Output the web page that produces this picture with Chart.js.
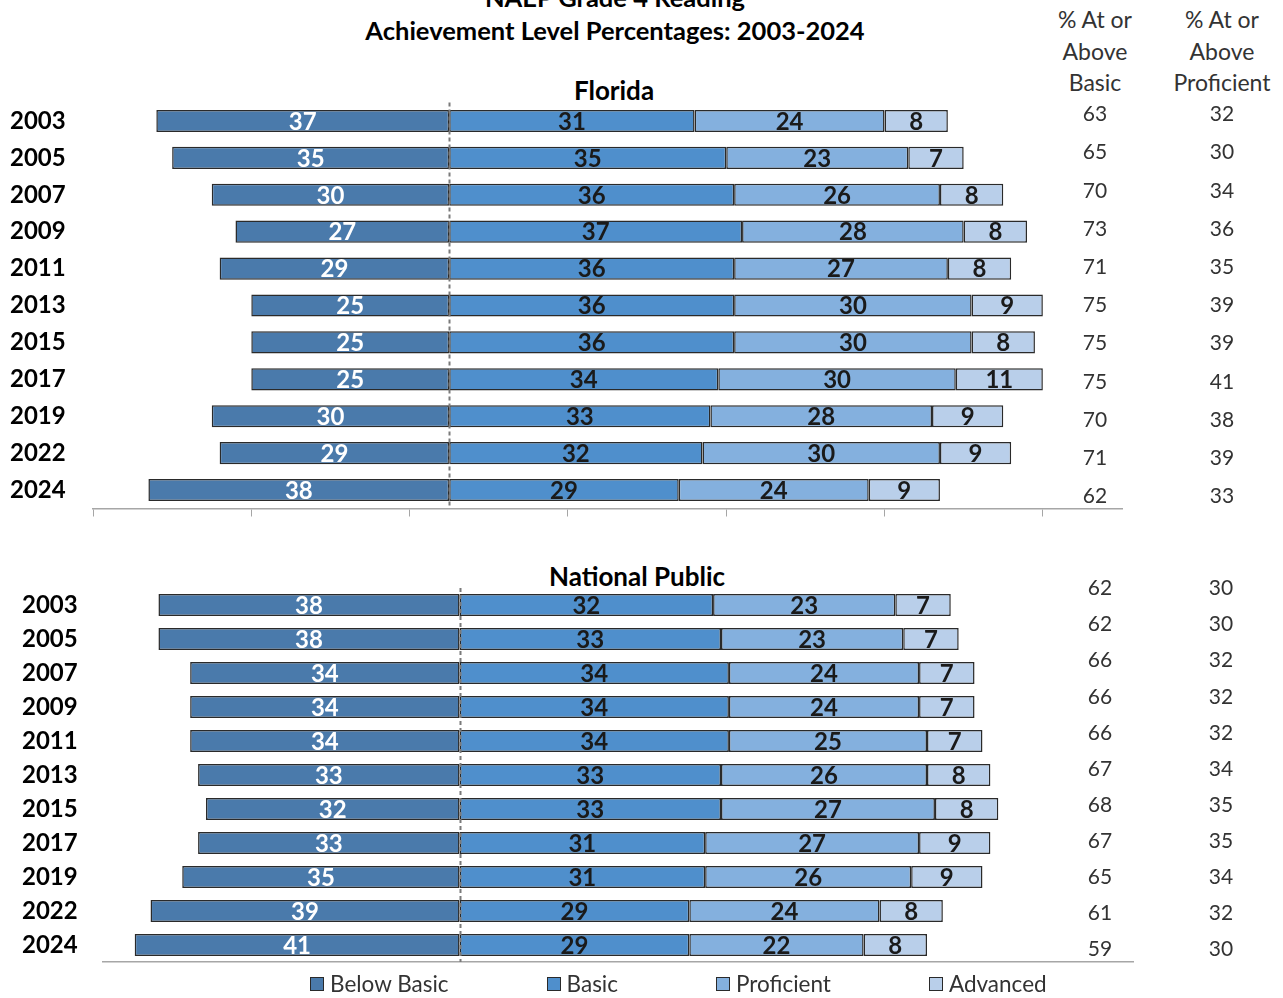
<!DOCTYPE html>
<html>
<head>
<meta charset="utf-8">
<script src="https://cdn.jsdelivr.net/npm/chart.js@4.4.1/dist/chart.umd.min.js"></script>
<style>
  body { margin: 0; background: #fff; width: 1283px; height: 998px; overflow: hidden; position: relative; font-family: Lato, 'Open Sans', sans-serif; }
  .txt { position: absolute; white-space: nowrap; transform: translate(-50%, -50%); }
  .title { font-weight: bold; font-size: 25.5px; color: #000; }
  .panel { font-weight: bold; font-size: 26px; color: #000; }
  .head { font-size: 23px; color: #333; text-align: center; line-height: 31.5px; transform: translate(-50%, 0); }
  canvas { position: absolute; left: 0; }
  #legend { position: absolute; left: 310px; top: 970px; display: flex; font-size: 22.5px; color: #333; }
  #legend .item { display: flex; align-items: center; margin-right: 98px; }
  #legend .box { width: 12px; height: 12px; border: 1.5px solid #2a2a2a; margin-right: 6px; }
</style>
</head>
<body>
<div class="txt title" style="left:615px;top:-3px">NAEP Grade 4 Reading</div>
<div class="txt title" style="left:615px;top:30px">Achievement Level Percentages: 2003-2024</div>
<div class="txt head" style="left:1095px;top:4px">% At or<br>Above<br>Basic</div>
<div class="txt head" style="left:1222px;top:4px">% At or<br>Above<br>Proficient</div>
<div class="txt panel" style="left:614px;top:90px">Florida</div>
<div class="txt panel" style="left:637px;top:576px">National Public</div>

<canvas id="fl" width="1283" height="530" style="top:0"></canvas>
<canvas id="np" width="1283" height="440" style="top:540px"></canvas>
<div id="legend"></div>

<script>
// ── Data ──────────────────────────────────────────────────────────────────────
const YEARS = ['2003', '2005', '2007', '2009', '2011', '2013', '2015', '2017', '2019', '2022', '2024'];
const LEVELS = ['Below Basic', 'Basic', 'Proficient', 'Advanced'];
const COLORS = ['#4a7aab', '#4f8fcc', '#84b0de', '#b9cfea'];

const FL_BELOW = [37, 35, 30, 27, 29, 25, 25, 25, 30, 29, 38];
const FL_BASIC = [31, 35, 36, 37, 36, 36, 36, 34, 33, 32, 29];
const FL_PROF  = [24, 23, 26, 28, 27, 30, 30, 30, 28, 30, 24];
const FL_ADV   = [8, 7, 8, 8, 8, 9, 8, 11, 9, 9, 9];
const FL_AT_BASIC = [63, 65, 70, 73, 71, 75, 75, 75, 70, 71, 62];
const FL_AT_PROF  = [32, 30, 34, 36, 35, 39, 39, 41, 38, 39, 33];

const NP_BELOW = [38, 38, 34, 34, 34, 33, 32, 33, 35, 39, 41];
const NP_BASIC = [32, 33, 34, 34, 34, 33, 33, 31, 31, 29, 29];
const NP_PROF  = [23, 23, 24, 24, 25, 26, 27, 27, 26, 24, 22];
const NP_ADV   = [7, 7, 7, 7, 7, 8, 8, 9, 9, 8, 8];
const NP_AT_BASIC = [62, 62, 66, 66, 66, 67, 68, 67, 65, 61, 59];
const NP_AT_PROF  = [30, 30, 32, 32, 32, 34, 35, 35, 34, 32, 30];

const X_MIN = -45, X_MAX = 85;
const X_TICKS = [-45, -25, -5, 15, 35, 55, 75];

const FONT = "Lato, 'Open Sans', sans-serif";

// ── Plugins ───────────────────────────────────────────────────────────────────

// value labels centred in each segment
const segmentLabels = {
  id: 'segmentLabels',
  afterDatasetsDraw(chart) {
    const ctx = chart.ctx;
    ctx.save();
    ctx.font = `bold 24px ${FONT}`;
    ctx.textAlign = 'center';
    ctx.textBaseline = 'middle';
    chart.data.datasets.forEach((ds, di) => {
      const meta = chart.getDatasetMeta(di);
      ctx.fillStyle = di === 0 ? '#ffffff' : '#1a1a1a';
      meta.data.forEach((el, i) => {
        ctx.fillText(Math.abs(ds.data[i]), (el.x + el.base) / 2, el.y + 1);
      });
    });
    ctx.restore();
  }
};

// dashed zero line
const zeroLine = {
  id: 'zeroLine',
  afterDatasetsDraw(chart) {
    const { ctx, chartArea } = chart;
    const x = Math.round(chart.scales.x.getPixelForValue(0)) + 0.5;
    ctx.save();
    ctx.strokeStyle = '#7a7a7a';
    ctx.lineWidth = 2;
    ctx.setLineDash([4, 3]);
    ctx.beginPath();
    ctx.moveTo(x, chartArea.top);
    ctx.lineTo(x, chartArea.bottom);
    ctx.stroke();
    ctx.restore();
  }
};

// right-hand "% at or above" columns
const sideTable = {
  id: 'sideTable',
  afterDraw(chart, args, opts) {
    const ctx = chart.ctx;
    const y = chart.scales.y;
    const mid = y.getPixelForValue(5);
    ctx.save();
    ctx.font = `21px ${FONT}`;
    ctx.fillStyle = '#333';
    ctx.textAlign = 'center';
    ctx.textBaseline = 'middle';
    opts.columns.forEach(col => {
      col.values.forEach((v, i) => {
        const py = mid + opts.shift + (y.getPixelForValue(i) - mid) * opts.stretch;
        ctx.fillText(v, col.x, py);
      });
    });
    ctx.restore();
  }
};

// ── Chart builder ─────────────────────────────────────────────────────────────

function buildChart(id, series, table, cfg) {
  const datasets = series.map((vals, i) => ({
    label: LEVELS[i],
    data: i === 0 ? vals.map(v => -v) : vals,
    backgroundColor: COLORS[i],
    borderColor: '#2a2a2a',
    borderWidth: 1.5,
    borderSkipped: false,
    barPercentage: cfg.barPct,
    categoryPercentage: 1,
  }));

  return new Chart(document.getElementById(id), {
    type: 'bar',
    data: { labels: YEARS, datasets },
    plugins: [zeroLine, segmentLabels, sideTable],
    options: {
      indexAxis: 'y',
      responsive: false,
      animation: false,
      layout: { padding: cfg.padding },
      plugins: {
        legend: { display: false },
        tooltip: { enabled: false },
        sideTable: table,
      },
      scales: {
        x: {
          stacked: true,
          min: X_MIN, max: X_MAX,
          afterBuildTicks: s => { s.ticks = cfg.ticks ? X_TICKS.map(v => ({ value: v })) : []; },
          afterFit: s => { s.height = cfg.axisH; },
          ticks: { display: false },
          grid: { display: !!cfg.ticks, drawOnChartArea: false, drawTicks: true, tickLength: 8, color: '#a6a6a6', lineWidth: 1 },
          border: { display: true, color: '#a6a6a6', width: 1.5 },
        },
        y: {
          stacked: true,
          afterFit: s => { s.width = cfg.yWidth; },
          ticks: { color: '#000', font: { family: FONT, weight: 'bold', size: 24 }, crossAlign: 'far', padding: 0 },
          grid: { display: false },
          border: { display: false },
        },
      },
    },
  });
}

buildChart('fl', [FL_BELOW, FL_BASIC, FL_PROF, FL_ADV],
  { columns: [{ x: 1095, values: FL_AT_BASIC }, { x: 1222, values: FL_AT_PROF }], shift: 0, stretch: 1.035 },
  { padding: { left: 10, right: 161, top: 102.5, bottom: 11.5 }, yWidth: 83, barPct: 0.6, ticks: true, axisH: 10 });

buildChart('np', [NP_BELOW, NP_BASIC, NP_PROF, NP_ADV],
  { columns: [{ x: 1100, values: NP_AT_BASIC }, { x: 1221, values: NP_AT_PROF }], shift: -6, stretch: 1.062 },
  { padding: { left: 22, right: 150, top: 48, bottom: 16 }, yWidth: 81, barPct: 0.65, ticks: false, axisH: 2 });

// ── Legend ────────────────────────────────────────────────────────────────────
document.getElementById('legend').innerHTML = LEVELS.map((l, i) =>
  `<div class="item"><div class="box" style="background:${COLORS[i]}"></div>${l}</div>`).join('');
</script>
</body>
</html>
